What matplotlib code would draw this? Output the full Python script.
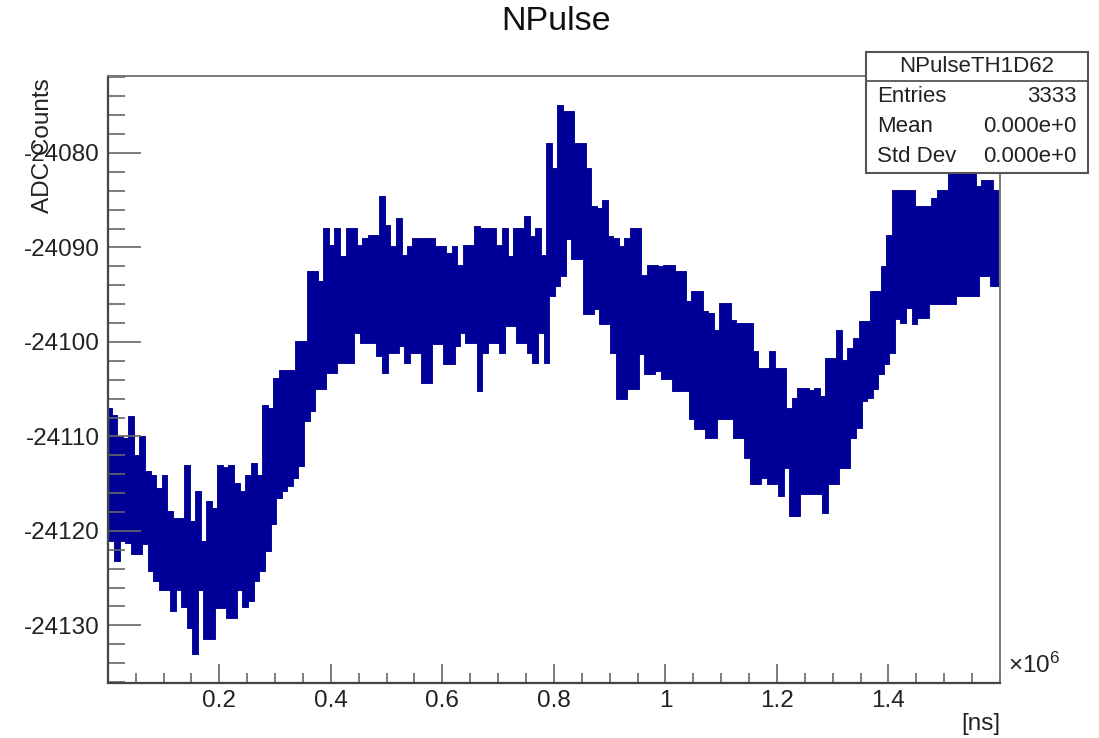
import numpy as np
import matplotlib
matplotlib.use("Agg")
import matplotlib.pyplot as plt
from matplotlib.patches import Rectangle
from matplotlib.ticker import MultipleLocator

plt.rcParams['font.family'] = ['Liberation Sans', 'DejaVu Sans']
plt.rcParams['mathtext.fontset'] = 'custom'
plt.rcParams['mathtext.rm'] = 'Liberation Sans'
plt.rcParams['axes.unicode_minus'] = False

# envelope of the noisy pulse (ADC counts), 160 slices over 0..1.6e6 ns
hi_counts = [
    -24107.2, -24107.9, -24110.2, -24110.4, -24108.0, -24112.2, -24110.2, -24113.9, -24114.3, -24115.7,
    -24114.3, -24118.1, -24118.8, -24118.8, -24113.2, -24119.2, -24116.0, -24121.3, -24117.0, -24117.8,
    -24113.2, -24113.5, -24113.2, -24115.1, -24116.0, -24114.3, -24113.0, -24114.3, -24106.9, -24107.2,
    -24104.0, -24103.2, -24103.2, -24103.2, -24100.1, -24100.1, -24092.7, -24092.7, -24093.8, -24088.1,
    -24089.9, -24088.1, -24091.1, -24088.1, -24088.1, -24089.9, -24089.2, -24088.9, -24088.9, -24084.8,
    -24087.8, -24090.1, -24087.1, -24091.0, -24090.1, -24089.2, -24089.2, -24089.2, -24089.2, -24090.1,
    -24090.1, -24090.8, -24090.1, -24092.1, -24089.9, -24089.9, -24087.9, -24088.1, -24088.1, -24088.1,
    -24089.9, -24088.1, -24091.1, -24088.1, -24088.1, -24086.9, -24089.0, -24088.1, -24091.0, -24079.2,
    -24081.8, -24075.1, -24075.8, -24075.8, -24079.2, -24079.2, -24081.8, -24085.8, -24086.0, -24085.2,
    -24089.0, -24089.2, -24090.1, -24089.2, -24088.1, -24088.1, -24093.1, -24092.1, -24092.1, -24092.2,
    -24092.1, -24092.1, -24092.7, -24092.7, -24095.9, -24094.8, -24094.8, -24096.9, -24097.1, -24099.0,
    -24096.1, -24096.1, -24097.9, -24098.2, -24098.2, -24098.2, -24101.2, -24103.0, -24103.0, -24101.2,
    -24103.0, -24103.0, -24107.2, -24106.1, -24105.1, -24105.1, -24105.3, -24105.1, -24105.9, -24101.9,
    -24101.9, -24099.0, -24102.1, -24100.8, -24099.8, -24098.0, -24098.0, -24094.8, -24094.8, -24092.2,
    -24088.9, -24084.1, -24084.1, -24084.1, -24084.1, -24085.8, -24085.8, -24085.8, -24085.0, -24084.1,
    -24084.1, -24082.3, -24082.3, -24082.1, -24082.1, -24082.3, -24083.7, -24083.1, -24083.1, -24084.1,
]
lo_counts = [
    -24121.0, -24123.1, -24121.0, -24121.2, -24122.3, -24122.3, -24121.3, -24124.1, -24125.2, -24126.2,
    -24126.2, -24128.4, -24126.2, -24128.0, -24130.2, -24132.9, -24126.2, -24131.3, -24131.3, -24128.1,
    -24128.1, -24129.1, -24129.1, -24126.2, -24128.0, -24127.3, -24125.2, -24124.1, -24122.0, -24119.2,
    -24116.4, -24115.7, -24115.1, -24114.3, -24113.0, -24108.3, -24107.2, -24104.9, -24104.9, -24103.2,
    -24103.2, -24102.1, -24102.1, -24102.1, -24099.0, -24100.0, -24100.0, -24100.0, -24101.4, -24103.2,
    -24101.1, -24101.1, -24100.3, -24102.1, -24101.1, -24101.1, -24104.2, -24104.2, -24100.1, -24100.1,
    -24102.2, -24102.2, -24100.3, -24099.0, -24100.0, -24100.0, -24105.1, -24101.1, -24100.0, -24100.0,
    -24101.1, -24098.2, -24098.2, -24100.0, -24100.0, -24101.1, -24102.1, -24098.9, -24102.1, -24095.0,
    -24094.0, -24092.9, -24089.0, -24091.1, -24091.1, -24096.9, -24096.9, -24096.4, -24098.0, -24098.0,
    -24101.1, -24105.9, -24105.9, -24104.9, -24104.9, -24101.2, -24103.3, -24103.3, -24103.0, -24103.8,
    -24103.8, -24105.1, -24105.1, -24105.1, -24108.0, -24109.1, -24109.1, -24110.1, -24110.1, -24108.0,
    -24108.0, -24108.0, -24110.1, -24110.1, -24112.2, -24114.9, -24114.9, -24114.3, -24114.9, -24114.9,
    -24116.2, -24113.2, -24118.3, -24118.3, -24116.0, -24116.0, -24116.0, -24116.0, -24118.0, -24114.9,
    -24114.9, -24113.2, -24113.2, -24110.1, -24109.0, -24106.1, -24105.8, -24104.9, -24103.3, -24102.2,
    -24101.1, -24097.5, -24097.9, -24096.3, -24098.0, -24097.4, -24097.4, -24095.9, -24095.9, -24095.9,
    -24095.9, -24095.9, -24095.0, -24095.0, -24095.0, -24095.0, -24092.9, -24092.9, -24094.0, -24094.0,
]

x_range = (0.0, 1.6)          # units of 1e6 ns
y_range = (-24136.1, -24071.85)
x_ticks = [0.2, 0.4, 0.6, 0.8, 1.0, 1.2, 1.4]
x_tick_labels = ["0.2", "0.4", "0.6", "0.8", "1", "1.2", "1.4"]
y_ticks = [-24130, -24120, -24110, -24100, -24090, -24080]

stats_rows = [("Entries", "3333"), ("Mean", "0.000e+0"), ("Std Dev", "0.000e+0")]

W, H = 1099, 738
fig = plt.figure(figsize=(W / 100, H / 100), dpi=100)
ax = fig.add_axes([107.8 / W, 1 - 683 / H, (1000 - 107.8) / W, (683 - 76) / H])

# interleave high/low so the step line fills the noise band
vals = np.empty(2 * len(hi_counts))
vals[0::2] = hi_counts
vals[1::2] = lo_counts
edges = np.linspace(x_range[0], x_range[1], len(vals) + 1)
ax.stairs(vals, edges, baseline=None, color="#000099", lw=2.8)

ax.set_xlim(*x_range)
ax.set_ylim(*y_range)
ax.set_xticks(x_ticks)
ax.set_xticklabels(x_tick_labels)
ax.set_yticks(y_ticks)
ax.set_yticklabels([str(v) for v in y_ticks])
ax.xaxis.set_minor_locator(MultipleLocator(0.05))
ax.yaxis.set_minor_locator(MultipleLocator(2))

ax.tick_params(axis="both", which="both", direction="in", colors="#666666",
               labelcolor="#222222", labelsize=17.5, width=1.2)
ax.tick_params(axis="y", which="major", length=24, pad=6)
ax.tick_params(axis="y", which="minor", length=12)
ax.tick_params(axis="x", which="major", length=14, pad=5)
ax.tick_params(axis="x", which="minor", length=7)
for side in ["left", "bottom"]:
    ax.spines[side].set_color("#444444")
    ax.spines[side].set_linewidth(1.6)
for side in ["top", "right"]:
    ax.spines[side].set_color("#777777")
    ax.spines[side].set_linewidth(1.4)

# titles and axis labels, ROOT style
fig.text(556 / W, 1 - 22 / H, "NPulse", ha="center", va="center", fontsize=24.5, color="#111111")
fig.text(43 / W, 1 - 78 / H, "ADC Counts", rotation=90, ha="center", va="top",
         fontsize=17.5, color="#222222")
fig.text(1000 / W, 1 - 724 / H, "[ns]", ha="right", va="center", fontsize=17.5, color="#222222")
fig.text(1008 / W, 1 - 665 / H, r"$\mathregular{\times10^{6}}$", ha="left", va="center",
         fontsize=17.5, color="#222222")

# stats box
bx0, by0, bx1, by1 = 866, 52, 1088, 173
fig.add_artist(Rectangle((bx0 / W, 1 - by1 / H), (bx1 - bx0) / W, (by1 - by0) / H,
                         transform=fig.transFigure, facecolor="white", edgecolor="#555555",
                         lw=1.5, zorder=10))
fig.add_artist(plt.Line2D([bx0 / W, bx1 / W], [1 - 81 / H, 1 - 81 / H],
                          transform=fig.transFigure, color="#555555", lw=1.3, zorder=11))
fig.text((bx0 + bx1) / 2 / W, 1 - 66 / H, "NPulseTH1D62", ha="center", va="center",
         fontsize=16, color="#222222", zorder=12)
for k, (name, val) in enumerate(stats_rows):
    yy = 1 - (97 + 30 * k) / H
    fig.text(877 / W, yy, name, ha="left", va="center", fontsize=16, color="#222222", zorder=12)
    fig.text(1077 / W, yy, val, ha="right", va="center", fontsize=16, color="#222222", zorder=12)

fig.savefig("out.png", dpi=100)
